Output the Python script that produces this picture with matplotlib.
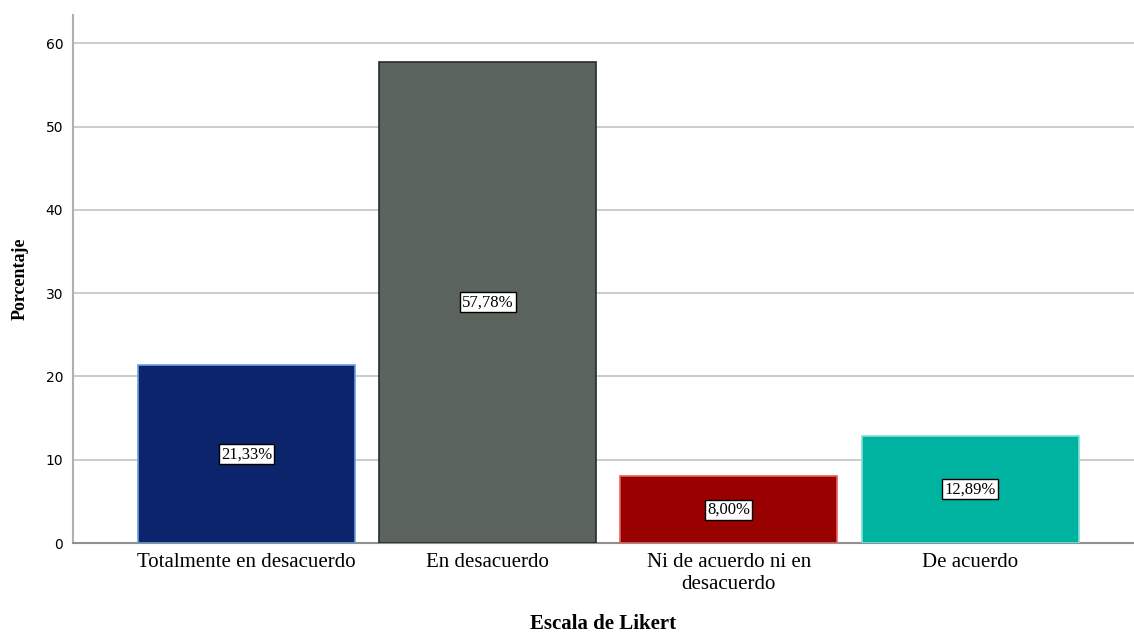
import matplotlib.pyplot as plt

# datos de la escala de Likert
categorias = ['Totalmente en desacuerdo', 'En desacuerdo',
              'Ni de acuerdo ni en\ndesacuerdo', 'De acuerdo']
porcentajes = [21.33, 57.78, 8.00, 12.89]
etiquetas = ['21,33%', '57,78%', '8,00%', '12,89%']

colores = ['#0b246b', '#5a635c', '#990000', '#00b2a0']
bordes = ['#6a9ee0', '#2a2a2a', '#e86060', '#7fe0d8']

fig = plt.figure(figsize=(11.34, 6.36), dpi=100)
ax = fig.add_axes([0.0644, 0.1462, 0.9356, 0.8302])

x = list(range(len(categorias)))
ax.bar(x, porcentajes, width=0.9, color=colores, edgecolor=bordes,
       linewidth=1.2, zorder=3)

for xi, v, txt in zip(x, porcentajes, etiquetas):
    ax.text(xi, v / 2, txt, ha='center', va='center', fontsize=12,
            family='Liberation Serif', zorder=4,
            bbox=dict(boxstyle='square,pad=0.12', facecolor='white',
                      edgecolor='black', linewidth=1))

ax.set_xlim(-0.72, 3.68)
ax.set_ylim(0, 63.4)
ax.set_yticks([0, 10, 20, 30, 40, 50, 60])
ax.yaxis.grid(True, color='#c8c8c8', linewidth=1.3, zorder=0)
ax.set_axisbelow(True)

ax.set_xticks(x)
ax.set_xticklabels(categorias, family='Liberation Serif', fontsize=15,
                   linespacing=1.25)
ax.tick_params(axis='x', length=0, pad=7)
ax.tick_params(axis='y', length=0, pad=7, labelsize=10)

for s in ['top', 'right']:
    ax.spines[s].set_visible(False)
ax.spines['left'].set_color('#b0b0b0')
ax.spines['left'].set_linewidth(1.5)
ax.spines['bottom'].set_color('#909090')
ax.spines['bottom'].set_linewidth(1.5)

ax.set_xlabel('Escala de Likert', family='Liberation Serif', fontsize=15,
              fontweight='bold', labelpad=14)
ax.set_ylabel('Porcentaje', family='Liberation Serif', fontsize=13,
              fontweight='bold', labelpad=12)

fig.savefig('out.png', dpi=100)
